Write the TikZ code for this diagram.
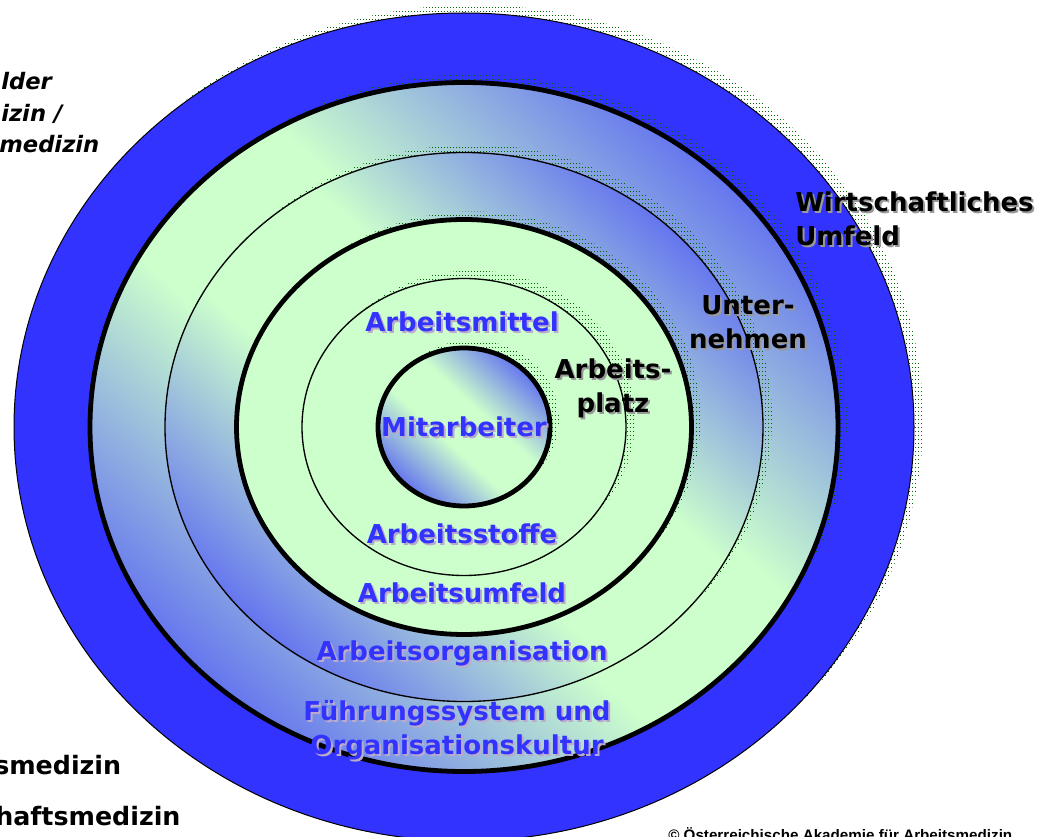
\documentclass[tikz,border=0pt]{standalone}
\usepackage{fontspec}
\setmainfont{DejaVu Sans}
\newfontfamily\arialfont{Liberation Sans}
\usetikzlibrary{patterns,calc}

\definecolor{mint}{HTML}{CCFFCC}
\definecolor{ringblue}{HTML}{6677EE}
\definecolor{outerblue}{HTML}{3333FF}
\definecolor{labelblue}{HTML}{3333FF}
\definecolor{dotgreen}{HTML}{006600}
\definecolor{blueshadow}{HTML}{BBAACC}
\definecolor{blackshadow}{HTML}{999999}

\pgfdeclarehorizontalshading{ringshade}{100bp}{color(0bp)=(ringblue); color(27.5bp)=(ringblue); color(44bp)=(mint); color(56bp)=(mint); color(72.5bp)=(ringblue); color(100bp)=(ringblue)}

% stippled drop shadow
\pgfdeclarepatternformonly{shadowdots}{\pgfqpoint{-1pt}{-1pt}}{\pgfqpoint{3pt}{4pt}}{\pgfqpoint{2.25pt}{3pt}}{%
  \pgfpathrectangle{\pgfqpoint{0pt}{0pt}}{\pgfqpoint{1pt}{0.8pt}}\pgfusepath{fill}}

% text with a soft drop shadow
\newcommand{\shadowed}[2]{\makebox[0pt][l]{\hspace{1.5pt}\raisebox{-1.5pt}{\textcolor{#1}{#2}}}#2}

% ellipse filled with the diagonal blue/green gradient: x radius, y radius
\newcommand{\gradellipse}[2]{%
  \begin{scope}
    \clip (mid) ellipse [x radius=#1, y radius=#2];
    \begin{scope}[transform canvas={shift={(mid)}, xscale=#1/100, yscale=#2/100, rotate=45}]
      \shade[shading=ringshade] (-110,-110) rectangle (110,110);
    \end{scope}
  \end{scope}}

\begin{document}
\begin{tikzpicture}[x=0.75pt,y=0.75pt,
  lbl/.style={font=\bfseries\fontsize{19.5}{25.5}\selectfont, inner sep=0pt, align=center},
  bluelbl/.style={lbl, text=labelblue},
  blacklbl/.style={lbl, text=black},
  sidelbl/.style={font=\bfseries\itshape\fontsize{17}{24}\selectfont, inner sep=0pt, anchor=base west},
  footlbl/.style={font=\bfseries\fontsize{19}{24}\selectfont, inner sep=0pt, anchor=base west},
  dropshadow/.style={pattern=shadowdots, pattern color=dotgreen}]
\useasboundingbox (0,0) rectangle (1043,836);
\coordinate (mid) at (464,409);

% Wirtschaftliches Umfeld
\fill[dropshadow] ($(mid)+(9,8)$) ellipse [x radius=450, y radius=414];
\draw[fill=outerblue, line width=0.75pt] (mid) ellipse [x radius=450, y radius=414];

% Unternehmen
\fill[dropshadow] ($(mid)+(9,8)$) ellipse [x radius=374, y radius=344.5];
\gradellipse{374}{344.5}
\draw[line width=3.6pt] (mid) ellipse [x radius=374, y radius=344.5];

\fill[dropshadow] ($(mid)+(9,8)$) ellipse [x radius=299, y radius=274.5];
\gradellipse{299}{274.5}
\draw[line width=1pt] (mid) ellipse [x radius=299, y radius=274.5];

% Arbeitsplatz
\fill[dropshadow] ($(mid)+(9,8)$) ellipse [x radius=227.5, y radius=207.5];
\draw[fill=mint, line width=3.6pt] (mid) ellipse [x radius=227.5, y radius=207.5];

\fill[dropshadow] ($(mid)+(9,8)$) ellipse [x radius=162, y radius=148.5];
\draw[fill=mint, line width=1pt] (mid) ellipse [x radius=162, y radius=148.5];

% Mitarbeiter
\fill[dropshadow] ($(mid)+(9,8)$) ellipse [x radius=86, y radius=79];
\gradellipse{86}{79}
\draw[line width=3.6pt] (mid) ellipse [x radius=86, y radius=79];

% labels
\node[bluelbl] (mitarbeiter) at (464,408) {\shadowed{blueshadow}{Mitarbeiter}};
\node[bluelbl] (mittel) at (462,513) {\shadowed{blueshadow}{Arbeitsmittel}};
\node[bluelbl] (stoffe) at (462,301) {\shadowed{blueshadow}{Arbeitsstoffe}};
\node[bluelbl] (umfeld) at (462,242) {\shadowed{blueshadow}{Arbeitsumfeld}};
\node[bluelbl] (organisation) at (462,182) {\shadowed{blueshadow}{Arbeitsorganisation}};
\node[bluelbl] (fuehrung) at (457,105) {\shadowed{blueshadow}{Führungssystem und}\\\shadowed{blueshadow}{Organisationskultur}};
\node[blacklbl] (platz) at (613,447) {\shadowed{blackshadow}{Arbeits-}\\\shadowed{blackshadow}{platz}};
\node[blacklbl] (unternehmen) at (748,513) {\shadowed{blackshadow}{Unter-}\\\shadowed{blackshadow}{nehmen}};
\node[blacklbl, align=left, anchor=west] (wirtschaft) at (795,616) {\shadowed{blackshadow}{Wirtschaftliches}\\\shadowed{blackshadow}{Umfeld}};

% cut-off texts at the left edge
\node[sidelbl] (felder) at (1,746) {lder};
\node[sidelbl] (medizinA) at (1,714) {izin /};
\node[sidelbl] (medizinB) at (-1,683) {medizin};
\node[footlbl] (medizinC) at (-6,61) {smedizin};
\node[footlbl] (medizinD) at (-5,11) {haftsmedizin};

\node[anchor=base west, inner sep=0pt, font=\arialfont\bfseries\fontsize{11.4}{13}\selectfont] (copyright) at (668,-4) {© Österreichische Akademie für Arbeitsmedizin};
\end{tikzpicture}
\end{document}
